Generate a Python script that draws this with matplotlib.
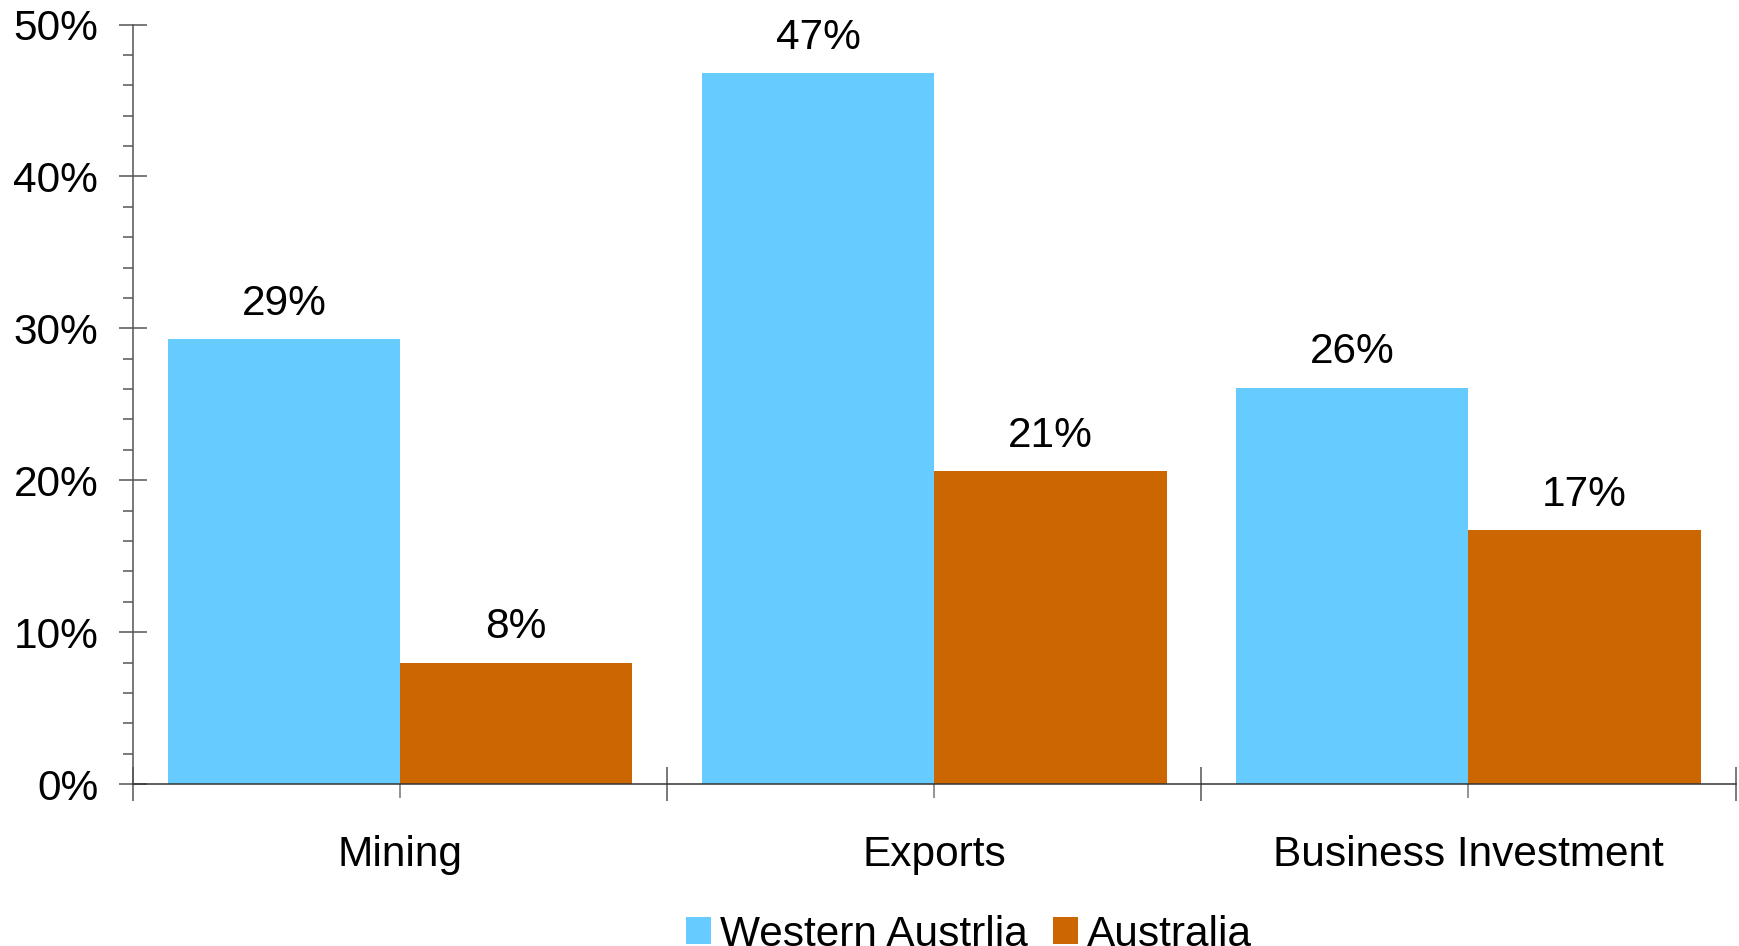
import matplotlib.pyplot as plt
import numpy as np
from matplotlib.ticker import FixedLocator, MultipleLocator, PercentFormatter

plt.rcParams['font.family'] = ['Liberation Sans', 'DejaVu Sans']

categories = ['Mining', 'Exports', 'Business Investment']
series_names = ['Western Austrlia', 'Australia']
wa_values = [29.3, 46.8, 26.1]
au_values = [8.0, 20.6, 16.7]
wa_labels = ['29%', '47%', '26%']
au_labels = ['8%', '21%', '17%']

blue = '#66CCFF'
orange = '#CC6600'
axis_col = '#555555'
fs = 30.5

fig = plt.figure(figsize=(17.39, 9.46), dpi=100)
ax = fig.add_axes([0.0765, 0.1712, 0.9215, 0.8029])

x = np.arange(len(categories))
w = 0.435
b1 = ax.bar(x - w / 2, wa_values, w, color=blue, label=series_names[0])
b2 = ax.bar(x + w / 2, au_values, w, color=orange, label=series_names[1])
ax.bar_label(b1, labels=wa_labels, padding=11, fontsize=fs)
ax.bar_label(b2, labels=au_labels, padding=11, fontsize=fs)

ax.set_xlim(-0.5, 2.5)
ax.set_ylim(0, 50)

# y axis: major every 10%, minor every 2%
ax.yaxis.set_major_locator(MultipleLocator(10))
ax.yaxis.set_minor_locator(MultipleLocator(2))
ax.yaxis.set_major_formatter(PercentFormatter(decimals=0))
ax.tick_params(axis='y', which='major', direction='inout', length=20, width=1.1,
               color=axis_col, labelsize=fs, pad=15)
ax.tick_params(axis='y', which='minor', direction='out', length=7, width=1.1,
               color=axis_col)

# x axis: labels at group centres, boundary ticks between groups
ax.set_xticks(x)
ax.set_xticklabels(categories)
ax.xaxis.set_minor_locator(FixedLocator([-0.5, 0.5, 1.5, 2.5]))
ax.tick_params(axis='x', which='major', direction='out', length=10, width=1.1,
               color='#777777', labelsize=fs, pad=27)
ax.tick_params(axis='x', which='minor', direction='inout', length=24, width=1.1,
               color=axis_col)

for side in ['top', 'right']:
    ax.spines[side].set_visible(False)
for side in ['left', 'bottom']:
    ax.spines[side].set_color(axis_col)
    ax.spines[side].set_linewidth(1.1)
ax.spines['bottom'].set_color('#333333')

fig.legend(loc='center', bbox_to_anchor=(0.557, 0.012), ncol=2, frameon=False,
           fontsize=fs, handlelength=0.6, handleheight=0.6, handletextpad=0.2,
           columnspacing=0.6, borderpad=0)

fig.savefig('out.png', dpi=100)
